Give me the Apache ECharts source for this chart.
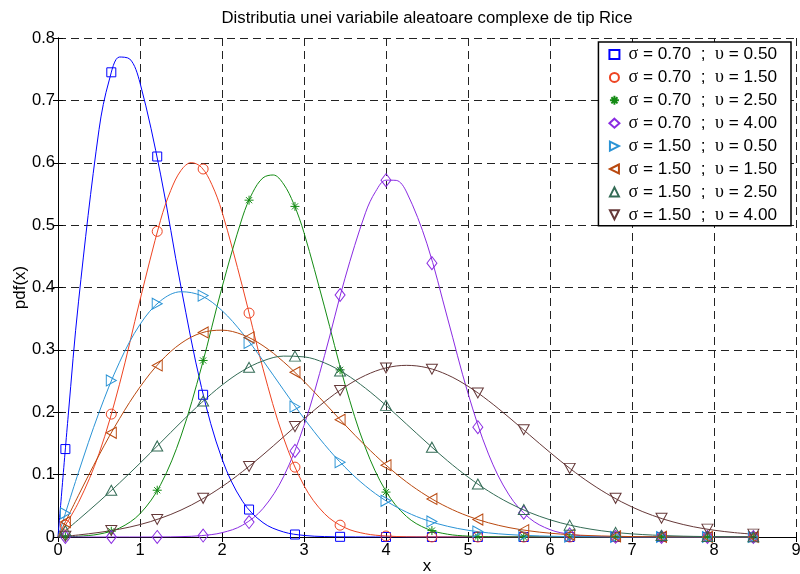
<!DOCTYPE html>
<html>
<head>
<meta charset="utf-8">
<script src="https://cdn.jsdelivr.net/npm/echarts@6/dist/echarts.min.js"></script>
<style>
html,body{margin:0;padding:0;background:#fff;}
#chart{width:800px;height:574px;}
</style>
</head>
<body>
<div id="chart"></div>
<script>
// x grid for the broad (sigma = 1.50) curves
const xs = [0,0.25,0.5,0.75,1,1.25,1.5,1.75,2,2.25,2.5,2.75,3,3.25,3.5,3.75,4,4.25,4.5,4.75,5,5.25,5.5,5.75,6,6.25,6.5,6.75,7,7.25,7.5,7.75,8,8.25,8.5];
// x positions of the markers
const markerX = [0.09,0.65,1.21,1.77,2.33,2.89,3.44,4.00,4.56,5.12,5.68,6.24,6.80,7.36,7.92,8.48];

// narrow (sigma = 0.70) curves: own x samples, denser near the peaks
const curve1X = [0,0.125,0.25,0.5,0.625,0.75,0.875,1,1.25,1.5,1.75,2,2.25,2.5,2.75,3,3.25,3.5,4,5,6,7,8,8.5];
const curve1Y = [0,0.1953,0.377,0.653,0.7326,0.7695,0.7663,0.7281,0.5818,0.4006,0.2396,0.1252,0.0573,0.0230,0.0081,0.0025,0.0007,0.0002,0,0,0,0,0,0];
const curve2X = [0,0.25,0.5,0.75,1,1.25,1.375,1.5,1.625,1.75,1.875,2,2.25,2.5,2.75,3,3.25,3.5,3.75,4,4.25,4.5,5,6,7,8,8.5];
const curve2Y = [0,0.0555,0.1335,0.2449,0.3799,0.5077,0.5557,0.5877,0.6002,0.5926,0.5654,0.5214,0.4011,0.2698,0.1591,0.0823,0.0374,0.0149,0.0052,0.0016,0.0004,0.0001,0,0,0,0,0];
const curve3X = [0,0.25,0.5,0.75,1,1.25,1.5,1.75,2,2.25,2.375,2.5,2.625,2.75,2.875,3,3.25,3.5,3.75,4,4.25,4.5,4.75,5,5.25,5.5,6,7,8,8.5];
const curve3Y = [0,0.0012,0.0046,0.0143,0.0373,0.0836,0.1619,0.2726,0.4001,0.5131,0.5526,0.5758,0.5804,0.5660,0.5341,0.4878,0.3689,0.2448,0.1427,0.0731,0.0329,0.0130,0.0045,0.0014,0.0004,0.0001,0,0,0,0];
const curve4X = [0,0.5,1,1.25,1.5,1.75,2,2.25,2.5,2.75,3,3.25,3.5,3.75,3.875,4,4.125,4.25,4.5,4.75,5,5.25,5.5,5.75,6,6.25,6.5,6.75,7,7.5,8,8.5];
const curve4Y = [0,0,0,0.0001,0.0006,0.0022,0.0069,0.0189,0.0457,0.0965,0.1788,0.2907,0.4149,0.5198,0.5543,0.5721,0.5717,0.5532,0.4700,0.3510,0.2304,0.1329,0.0675,0.0301,0.0118,0.0041,0.0012,0.0003,0.0001,0,0,0];

// broad curves on the shared xs grid
const curve5Y = [0,0.1037,0.1995,0.2802,0.3408,0.3786,0.3932,0.3867,0.3630,0.3267,0.2828,0.2360,0.1902,0.1483,0.1119,0.0818,0.0580,0.0399,0.0266,0.0172,0.0108,0.0066,0.0039,0.0023,0.0013,0.0007,0.0004,0.0002,0.0001,0,0,0,0,0,0];
const curve6Y = [0,0.0669,0.1311,0.1897,0.2405,0.2813,0.3105,0.3273,0.3316,0.3243,0.3067,0.2809,0.2495,0.2150,0.1798,0.1461,0.1153,0.0883,0.0658,0.0476,0.0335,0.0228,0.0151,0.0098,0.0061,0.0037,0.0022,0.0013,0.0007,0.0004,0.0002,0.0001,0,0,0];
const curve7Y = [0,0.0279,0.0566,0.0867,0.1183,0.1511,0.1840,0.2154,0.2435,0.2664,0.2823,0.2900,0.2888,0.2792,0.2618,0.2385,0.2109,0.1810,0.1510,0.1222,0.0962,0.0735,0.0546,0.0394,0.0276,0.0188,0.0125,0.0080,0.0050,0.0031,0.0018,0.0010,0.0006,0.0003,0.0002];
const curve8Y = [0,0.0033,0.0073,0.0126,0.0199,0.0300,0.0432,0.0601,0.0807,0.1049,0.1318,0.1605,0.1893,0.2167,0.2406,0.2592,0.2711,0.2752,0.2714,0.2599,0.2417,0.2184,0.1917,0.1636,0.1356,0.1092,0.0855,0.0651,0.0481,0.0346,0.0242,0.0164,0.0109,0.0070,0.0043];

// marker values at markerX
const marks1 = [0.141,0.745,0.610,0.228,0.044,0.004,0.0003,0,0,0,0,0,0,0,0,0];
const marks2 = [0.019,0.197,0.490,0.590,0.359,0.112,0.019,0.0016,0.0001,0,0,0,0,0,0,0];
const marks3 = [0.0003,0.0093,0.075,0.283,0.540,0.530,0.268,0.072,0.0103,0.0007,0,0,0,0,0,0];
const marks4 = [0,0,0.0001,0.0023,0.024,0.138,0.388,0.572,0.439,0.176,0.039,0.0042,0.0003,0,0,0];
const marks5 = [0.038,0.251,0.374,0.387,0.311,0.209,0.120,0.058,0.025,0.0087,0.0027,0.0007,0.0002,0,0,0];
const marks6 = [0.024,0.167,0.275,0.328,0.320,0.264,0.188,0.115,0.061,0.028,0.011,0.0038,0.0011,0.0003,0.0001,0];
const marks7 = [0.010,0.075,0.146,0.218,0.272,0.290,0.266,0.211,0.144,0.085,0.044,0.019,0.0074,0.0025,0.0007,0.0002];
const marks8 = [0.0012,0.0105,0.028,0.062,0.113,0.177,0.235,0.271,0.269,0.231,0.172,0.110,0.062,0.030,0.0126,0.0046];

const seriesNames = [
  'σ = 0.70  ;  υ = 0.50',
  'σ = 0.70  ;  υ = 1.50',
  'σ = 0.70  ;  υ = 2.50',
  'σ = 0.70  ;  υ = 4.00',
  'σ = 1.50  ;  υ = 0.50',
  'σ = 1.50  ;  υ = 1.50',
  'σ = 1.50  ;  υ = 2.50',
  'σ = 1.50  ;  υ = 4.00'
];
const xTicks = ['0','1','2','3','4','5','6','7','8','9'];
const yTicks = ['0','0.1','0.2','0.3','0.4','0.5','0.6','0.7','0.8'];

const curveX = [curve1X, curve2X, curve3X, curve4X, xs, xs, xs, xs];
const curveY = [curve1Y, curve2Y, curve3Y, curve4Y, curve5Y, curve6Y, curve7Y, curve8Y];
const marks = [marks1,marks2,marks3,marks4,marks5,marks6,marks7,marks8];
const colors = ['#0000FF','#EE4422','#138B13','#8A2BE2','#2A93D5','#B9480E','#336B55','#653838'];
const symbols = [
  'rect',
  'circle',
  'path://M5,0L5,10M0,5L10,5M1.6,1.6L8.4,8.4M8.4,1.6L1.6,8.4',
  'diamond',
  'path://M0,0L10,5L0,10Z',
  'path://M10,0L0,5L10,10Z',
  'path://M5,0L10,10L0,10Z',
  'path://M0,0L10,0L5,10Z'
];
const sizes = [[9,9],[10,10],[9,9],[10,13],[10,11],[10,11],[11,10],[11,10]];

const FONT = "'Liberation Sans', Arial, Helvetica, sans-serif";
const series = [];
for (let i = 0; i < 8; i++) {
  series.push({
    type: 'line',
    name: 'curve' + i,
    data: curveX[i].map((x, j) => [x, curveY[i][j]]),
    showSymbol: false,
    symbol: 'none',
    smooth: 0.35,
    lineStyle: { width: 1, color: colors[i] },
    itemStyle: { color: colors[i] },
    silent: true,
    animation: false,
    z: 3
  });
}
for (let i = 0; i < 8; i++) {
  series.push({
    type: 'scatter',
    name: seriesNames[i],
    data: markerX.map((x, j) => [x, marks[i][j]]),
    symbol: symbols[i],
    symbolSize: sizes[i],
    itemStyle: { color: 'rgba(255,255,255,0)', borderColor: colors[i], borderWidth: 1, opacity: 1 },
    silent: true,
    animation: false,
    z: 4
  });
}

const axisCommon = {
  axisLine: { show: true, lineStyle: { color: '#000', width: 1 } },
  axisTick: { show: true, inside: true, length: 5, lineStyle: { color: '#000', width: 1 } }
};
const gridLine = { show: true, lineStyle: { type: [8, 5], color: '#222', width: 1 } };

const chart = echarts.init(document.getElementById('chart'), null, { renderer: 'canvas' });
chart.setOption({
  animation: false,
  backgroundColor: '#fff',
  title: {
    text: 'Distributia unei variabile aleatoare complexe de tip Rice',
    left: 427,
    textAlign: 'center',
    top: 10,
    padding: 0,
    textStyle: { fontFamily: FONT, fontSize: 16.7, fontWeight: 'normal', color: '#000' }
  },
  legend: {
    data: seriesNames,
    orient: 'vertical',
    right: 9,
    top: 42,
    padding: [3.5, 14, 2, 10],
    itemGap: 4.9,
    itemWidth: 10,
    itemHeight: 9,
    backgroundColor: '#fff',
    borderColor: '#000',
    borderWidth: 1.5,
    borderRadius: 0,
    formatter: name => name.replace('σ', '{g|σ}').replace('υ', '{g|υ}'),
    textStyle: {
      fontFamily: FONT, fontSize: 17.2, color: '#000', lineHeight: 17, padding: [0, 0, 0, 4],
      rich: { g: { fontFamily: "'Liberation Serif', 'DejaVu Serif', serif", fontSize: 18, color: '#000', lineHeight: 17 } }
    },
    selectedMode: false
  },
  grid: { left: 58, right: 4, top: 38, bottom: 37, containLabel: false, outerBoundsMode: 'none' },
  xAxis: [
    Object.assign({
      type: 'value', min: 0, max: 9, interval: 1, position: 'bottom',
      name: 'x', nameLocation: 'middle', nameGap: 21, nameMoveOverlap: false,
      nameTextStyle: { fontFamily: FONT, fontSize: 17, color: '#000' },
      axisLabel: { fontFamily: FONT, fontSize: 16.5, color: '#000', margin: 5,
        formatter: v => xTicks[Math.round(v)] },
      splitLine: gridLine
    }, axisCommon),
    Object.assign({
      type: 'value', min: 0, max: 9, interval: 1, position: 'top',
      axisLabel: { show: false }, splitLine: { show: false }
    }, axisCommon)
  ],
  yAxis: [
    Object.assign({
      type: 'value', min: 0, max: 0.8, interval: 0.1, position: 'left',
      name: 'pdf(x)', nameLocation: 'middle', nameGap: 29, nameMoveOverlap: false,
      nameTextStyle: { fontFamily: FONT, fontSize: 17, color: '#000' },
      axisLabel: { fontFamily: FONT, fontSize: 16.5, color: '#000', margin: 3,
        formatter: v => yTicks[Math.round(v * 10)] },
      splitLine: gridLine
    }, axisCommon),
    Object.assign({
      type: 'value', min: 0, max: 0.8, interval: 0.1, position: 'right',
      axisLabel: { show: false }, splitLine: { show: false }
    }, axisCommon)
  ],
  series: series
});
</script>
</body>
</html>
